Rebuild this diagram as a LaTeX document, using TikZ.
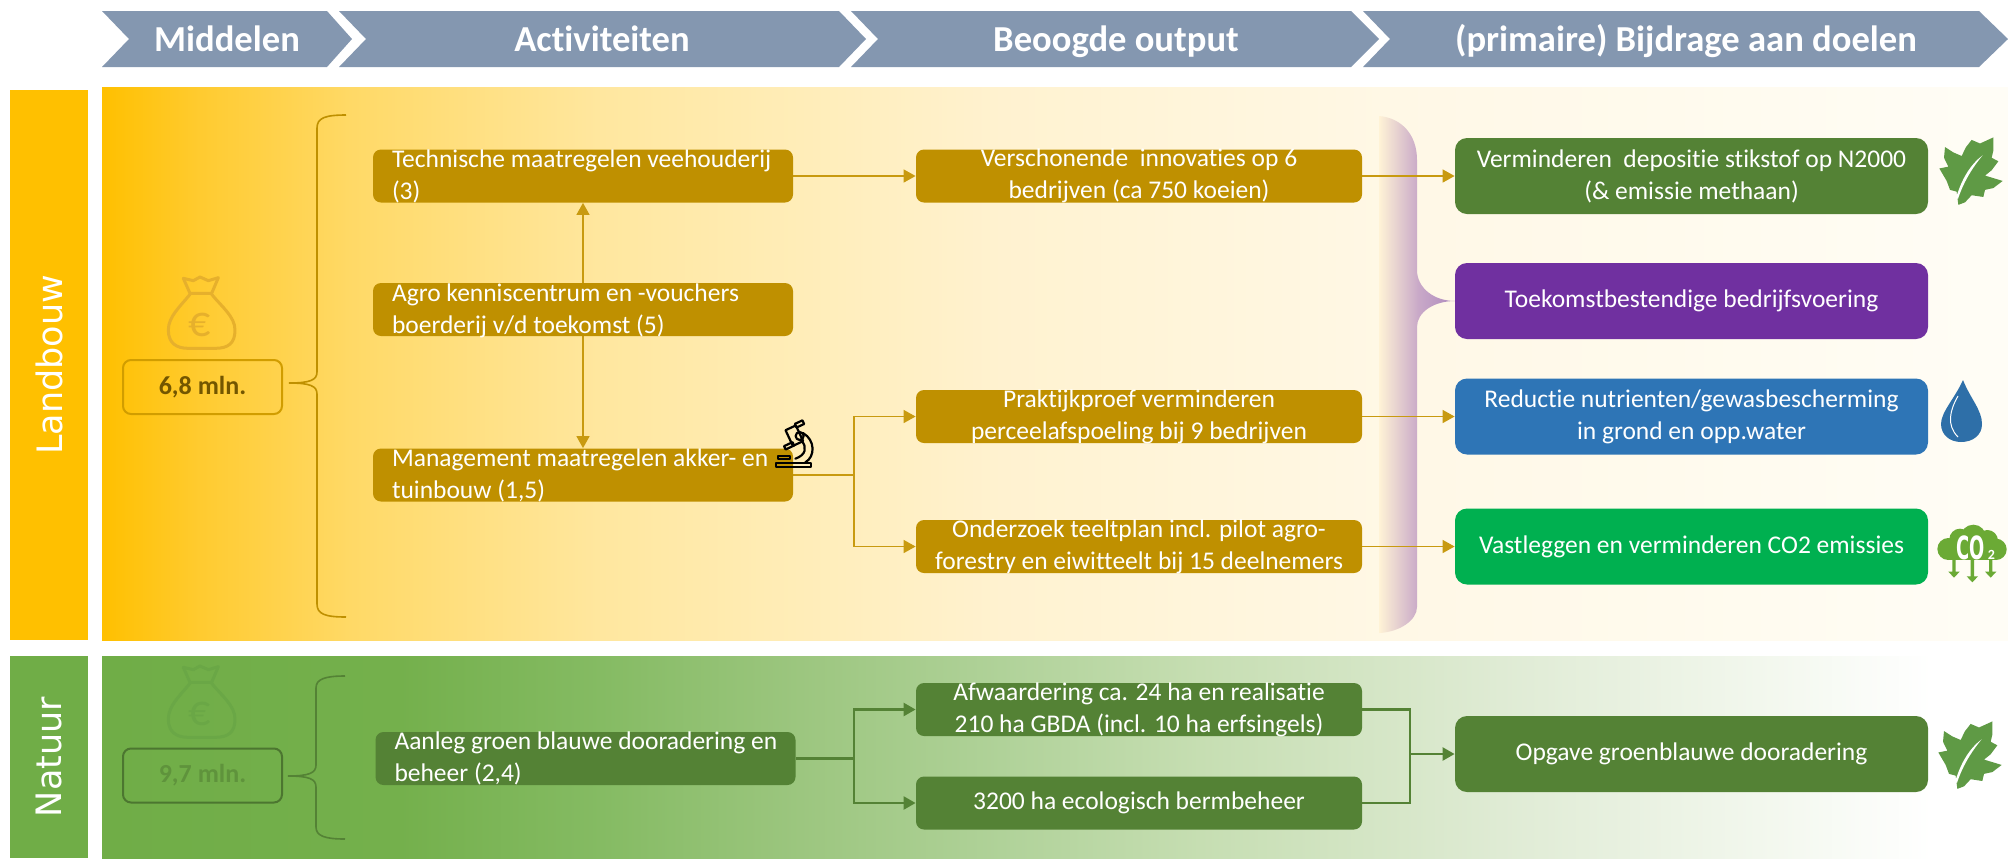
\documentclass[tikz,border=0pt]{standalone}
\usepackage{fontspec}
\setmainfont[Ligatures=NoCommon]{Carlito}
\newfontfamily\sidefont{DejaVu Sans}
\usetikzlibrary{arrows.meta}
\definecolor{hdr}{HTML}{8497B0}
\definecolor{landc}{HTML}{FFC000}
\definecolor{natc}{HTML}{70AD47}
\definecolor{goldb}{HTML}{BF9000}
\definecolor{goldl}{HTML}{C89A10}
\definecolor{greenb}{HTML}{548235}
\definecolor{purpb}{HTML}{7030A0}
\definecolor{blueb}{HTML}{2E75B6}
\definecolor{greenc}{HTML}{00B050}
\definecolor{leafc}{HTML}{5F9A45}
\definecolor{dropc}{HTML}{2E6FA8}
\definecolor{co2c}{HTML}{6BAA35}
\definecolor{bagl}{HTML}{E6B02C}
\definecolor{bagn}{HTML}{6AA746}
\definecolor{lA}{HTML}{FFC000}\definecolor{lB}{HTML}{FFCB30}\definecolor{lC}{HTML}{FFD966}
\definecolor{lD}{HTML}{FFE79F}\definecolor{lE}{HTML}{FFEDB8}\definecolor{lF}{HTML}{FFF2D0}
\definecolor{lG}{HTML}{FFF8E6}\definecolor{lH}{HTML}{FFFDF6}
\definecolor{nA}{HTML}{70AD47}\definecolor{nB}{HTML}{74B04C}\definecolor{nC}{HTML}{85BB63}
\definecolor{nD}{HTML}{9CC67F}\definecolor{nE}{HTML}{B0D299}\definecolor{nF}{HTML}{C6DEB2}
\definecolor{nG}{HTML}{DFEBD4}\definecolor{nH}{HTML}{F5F9F1}\definecolor{nI}{HTML}{FFFFFF}
\definecolor{pA}{HTML}{FFF3D6}\definecolor{pB}{HTML}{C9A9C8}\definecolor{pC}{HTML}{AE8ABE}
\pgfdeclarehorizontalshading{shLand}{100bp}{color(0bp)=(lA); color(25bp)=(lA); color(27.6bp)=(lB); color(31.5bp)=(lC); color(38.1bp)=(lD); color(43.3bp)=(lE); color(48.6bp)=(lF); color(59bp)=(lG); color(75bp)=(lH); color(100bp)=(lH)}
\pgfdeclarehorizontalshading{shNat}{100bp}{color(0bp)=(nA); color(25bp)=(nA); color(32.8bp)=(nB); color(38.1bp)=(nC); color(43.3bp)=(nD); color(48.6bp)=(nE); color(53.8bp)=(nF); color(61.7bp)=(nG); color(69.5bp)=(nH); color(73bp)=(nI); color(100bp)=(nI)}
\pgfdeclarehorizontalshading{shPurp}{100bp}{color(0bp)=(pA); color(25bp)=(pA); color(50.7bp)=(pB); color(75bp)=(pC); color(100bp)=(pC)}
\pgfdeclarelayer{bands}\pgfdeclarelayer{conns}
\pgfsetlayers{bands,conns,main}
\tikzset{
  hdrtext/.style={text=white,font=\fontsize{18.3}{22}\selectfont\bfseries,inner sep=0pt,text height=12pt,text depth=4pt},
  sidebox/.style={rotate=90,text=white,font=\sidefont\fontsize{17.5}{22}\selectfont,inner sep=0pt,minimum height=39pt},
  boxbase/.style={rounded corners=4pt,inner sep=0pt},
  actbox/.style={boxbase,minimum width=210pt,minimum height=26.5pt},
  outbox/.style={boxbase,minimum width=223pt,minimum height=26.5pt},
  goalbox/.style={boxbase,rounded corners=6pt,minimum width=236.5pt,minimum height=38pt},
  lefttext/.style={anchor=west,xshift=9.5pt,align=left,text=white,inner sep=0pt,font=\fontsize{12.75}{16}\selectfont},
  midtext/.style={align=center,text=white,inner sep=0pt,font=\fontsize{12.75}{16}\selectfont},
  moneybox/.style={boxbase,line width=1pt,minimum width=79.5pt,minimum height=27pt,font=\fontsize{13}{16}\selectfont\bfseries},
  goldcon/.style={draw=goldl,line width=.75pt},
  greencon/.style={draw=greenb,line width=1.2pt},
  goldtip/.style={-{Triangle[length=6pt,width=6.5pt]}},
  bothtip/.style={{Triangle[length=6pt,width=6.5pt]}-{Triangle[length=6pt,width=6.5pt]}},
}
\newcommand{\moneybag}[3]{% x, y, colour
  \begin{scope}[shift={(#1,#2)},scale=1/3,draw=#3,line width=1.5pt,line join=round]
    \draw (100,40) -- (130,47) -- (150,36) -- (175,47) -- (205,38) -- (185,85) -- (120,85) -- cycle;
    \draw (120,88) .. controls (90,125) and (55,155) .. (55,195) .. controls (55,235) and (80,250) .. (115,250) -- (195,250) .. controls (235,250) and (255,235) .. (255,195) .. controls (255,155) and (215,125) .. (185,88);
  \end{scope}
}
\newcommand{\leafshape}[2]{% x, y
  \begin{scope}[shift={(#1,#2)},xscale=1/3,yscale=1.07/3]
    \fill[leafc] (85,207) -- (80,170) -- (60,165) -- (50,140) -- (28,105) -- (55,100) -- (42,75) -- (45,45) -- (70,60) -- (95,70) -- (108,45) -- (125,25) -- (150,35) -- (190,18) -- (190,55) -- (185,75) -- (205,85) -- (185,110) -- (165,125) -- (218,140) -- (190,160) -- (165,165) -- (160,185) -- (125,180) -- (105,200) -- cycle;
    \fill[white] (78,188) .. controls (95,135) and (120,95) .. (158,68) .. controls (125,105) and (100,145) .. (84,190) -- cycle;
  \end{scope}
}
\begin{document}
\begin{tikzpicture}[x=.5pt,y=-.5pt]
\useasboundingbox (0,0) rectangle (2008,858);
\begin{pgfonlayer}{bands}
  \shade[shading=shLand] (102,87) rectangle (2008,640);
  \shade[shading=shNat] (102,656) rectangle (2008,858);
  % purple brace
  \shade[shading=shPurp] (1379,116) .. controls (1402,118) and (1417,135) .. (1417,160) -- (1417,270) .. controls (1417,288) and (1434,301) .. (1455,301) .. controls (1434,301) and (1417,312) .. (1417,327) -- (1417,607) .. controls (1417,620) and (1400,632) .. (1379,633) -- cycle;
\end{pgfonlayer}
% header chevrons
\fill[hdr] (102,11) -- (327,11) -- (352,39) -- (327,67) -- (102,67) -- (129,39) -- cycle;
\fill[hdr] (339,11) -- (839,11) -- (866,39) -- (839,67) -- (339,67) -- (366,39) -- cycle;
\fill[hdr] (851,11) -- (1351,11) -- (1379,39) -- (1351,67) -- (851,67) -- (878,39) -- cycle;
\fill[hdr] (1363,11) -- (1979,11) -- (2008,39) -- (1979,67) -- (1363,67) -- (1390,39) -- cycle;
\node[hdrtext] (h1) at (227,43) {Middelen};
\node[hdrtext] (h2) at (602,43) {Activiteiten};
\node[hdrtext] (h3) at (1116,43) {Beoogde output};
\node[hdrtext] (h4) at (1686,43) {(primaire) Bijdrage aan doelen};
% side labels
\node[sidebox,fill=landc,minimum width=275pt] (sl) at (49,365) {Landbouw};
\node[sidebox,fill=natc,minimum width=101pt] (sn) at (49,757) {Natuur};
% money
\moneybag{150}{265}{bagl}
\node[text=bagl,inner sep=0pt,font=\fontsize{22}{24}\selectfont] (eur1) at (200,325) {€};
\node[moneybox,draw=landc!82!black,text=landc!45!black] (m1) at (202.5,387) {6,8 mln.};
\moneybag{150}{654}{bagn}
\node[text=bagn,inner sep=0pt,font=\fontsize{22}{24}\selectfont] (eur2) at (200,714) {€};
\node[moneybox,draw=natc!68!black,text=natc!85!black] (m2) at (202.5,775.5) {9,7 mln.};
% curly brackets
\draw[goldb,line width=.8pt] (346,115) .. controls (325,115) and (317,118) .. (317,128) -- (317,372) .. controls (317,380) and (310,383) .. (289,383) .. controls (310,383) and (317,386) .. (317,394) -- (317,604) .. controls (317,614) and (325,617) .. (346,617);
\draw[greenb,line width=.8pt] (345,676) .. controls (325,676) and (316,679) .. (316,688) -- (316,765) .. controls (316,773) and (309,776) .. (288,776) .. controls (309,776) and (316,779) .. (316,787) -- (316,827) .. controls (316,836) and (325,839) .. (345,839);
% activities
\node[actbox,fill=goldb] (a1) at (583,176) {};
\node[actbox,fill=goldb] (a2) at (583,309.5) {};
\node[actbox,fill=goldb] (a3) at (583,475) {};
\node[actbox,fill=greenb] (n1) at (585.5,758.5) {};
\node[lefttext] (ta1) at (a1.west) {Technische maatregelen veehouderij\\(3)};
\node[lefttext,yshift=-.8pt] (ta2) at (a2.west) {Agro kenniscentrum en -vouchers\\boerderij v/d toekomst (5)};
\node[lefttext] (ta3) at (a3.west) {Management maatregelen akker- en\\tuinbouw (1,5)};
\node[lefttext] (tn1) at (n1.west) {Aanleg groen blauwe dooradering en\\beheer (2,4)};
% outputs
\node[outbox,fill=goldb] (o1) at (1139,176) {};
\node[outbox,fill=goldb] (o2) at (1139,416.5) {};
\node[outbox,fill=goldb] (o3) at (1139,546.5) {};
\node[outbox,fill=greenb] (o4) at (1139,709.5) {};
\node[outbox,fill=greenb] (o5) at (1139,803) {};
\node[midtext] (to1) at (o1) {Verschonende\ \ innovaties op 6\\bedrijven (ca 750 koeien)};
\node[midtext] (to2) at (o2) {Praktijkproef verminderen\\perceelafspoeling bij 9 bedrijven};
\node[midtext] (to3) at (o3) {Onderzoek teeltplan incl. pilot agro-\\forestry en eiwitteelt bij 15 deelnemers};
\node[midtext] (to4) at (o4) {Afwaardering ca. 24 ha en realisatie\\210 ha GBDA (incl. 10 ha erfsingels)};
\node[midtext] (to5) at (o5) {3200 ha ecologisch bermbeheer};
% goals
\node[goalbox,fill=greenb,midtext] (g1) at (1691.5,176) {Verminderen\ \ depositie stikstof op N2000\\(\&\ emissie methaan)};
\node[goalbox,fill=purpb,midtext] (g2) at (1691.5,301) {Toekomstbestendige bedrijfsvoering};
\node[goalbox,fill=blueb,midtext] (g3) at (1691.5,416.5) {Reductie nutrienten/gewasbescherming\\in grond en opp.water};
\node[goalbox,fill=greenc,midtext] (g4) at (1691.5,546.5) {Vastleggen en verminderen CO2 emissies};
\node[goalbox,fill=greenb,midtext] (g5) at (1691.5,754) {Opgave groenblauwe dooradering};
% connectors
\coordinate (j1) at (854,475);
\coordinate (j2) at (854,758.5);
\coordinate (mrg) at (1410,754);
\begin{pgfonlayer}{conns}
  \draw[goldcon,bothtip] (a1.south) -- (a3.north);
  \draw[goldcon,goldtip] (a1.east) -- (o1.west);
  \draw[goldcon,goldtip] (o1.east) -- (g1.west);
  \draw[goldcon] (a3.east) -- (j1);
  \draw[goldcon,goldtip] (j1) |- (o2.west);
  \draw[goldcon,goldtip] (j1) |- (o3.west);
  \draw[goldcon,goldtip] (o2.east) -- (g3.west);
  \draw[goldcon,goldtip] (o3.east) -- (g4.west);
  \draw[greencon] (n1.east) -- (j2);
  \draw[greencon,goldtip] (j2) |- (o4.west);
  \draw[greencon,goldtip] (j2) |- (o5.west);
  \draw[greencon] (o4.east) -| (mrg);
  \draw[greencon] (o5.east) -| (mrg);
  \draw[greencon,goldtip] (mrg) -- (g5.west);
\end{pgfonlayer}
% icons
\leafshape{1930}{131}
\leafshape{1929}{715}
% drop
\fill[dropc] (1963,380) .. controls (1955,398) and (1941,412) .. (1941,424) .. controls (1941,435) and (1950,442) .. (1961,442) .. controls (1973,442) and (1982,435) .. (1982,424) .. controls (1982,410) and (1970,398) .. (1963,380) -- cycle;
\draw[white,line width=.5pt] (1958,396) .. controls (1950,410) and (1946,425) .. (1958,437);
% CO2 cloud
\begin{scope}[shift={(1930,510)},scale=1/3]
  \fill[co2c] (55,117) circle[radius=33];
  \fill[co2c] (90,88) circle[radius=32];
  \fill[co2c] (130,82) circle[radius=38];
  \fill[co2c] (172,92) circle[radius=32];
  \fill[co2c] (198,118) circle[radius=32];
  \fill[co2c] (55,110) rectangle (198,150);
  \foreach \ax/\ay in {72/203,127/217,182/203}{
    \fill[co2c] (\ax-5,149) -- (\ax+5,149) -- (\ax+5,\ay-18) -- (\ax+17,\ay-18) -- (\ax,\ay) -- (\ax-17,\ay-18) -- (\ax-5,\ay-18) -- cycle;
  }
\end{scope}
\node[inner sep=0pt,text=white,font=\sidefont\fontsize{16}{18}\selectfont\bfseries] (co) at (1970.5,548) {\scalebox{.56}[1]{CO}};
\node[inner sep=0pt,text=white,font=\fontsize{7}{8}\selectfont\bfseries] (co2) at (1991.5,555) {2};
% microscope
\begin{scope}[shift={(767,415)},scale=1/3,draw=black,line width=1.1pt,line cap=round,line join=round]
  \draw[rotate around={25:(82,62)}] (65,36) rectangle (99,88);
  \draw[rotate around={25:(97,27)}] (85,21) rectangle (110,33);
  \draw[rotate around={25:(66,92)}] (52,87) rectangle (80,98);
  \draw (98,63) circle[radius=12];
  \draw (108,54) .. controls (145,75) and (145,125) .. (115,142);
  \draw (104,78) .. controls (120,95) and (118,120) .. (85,131);
  \draw (32,122) -- (68,122) -- (68,133) -- (32,133) -- cycle;
  \draw (27,145) -- (133,145) -- (133,157) -- (27,157) -- cycle;
\end{scope}
\end{tikzpicture}
\end{document}
